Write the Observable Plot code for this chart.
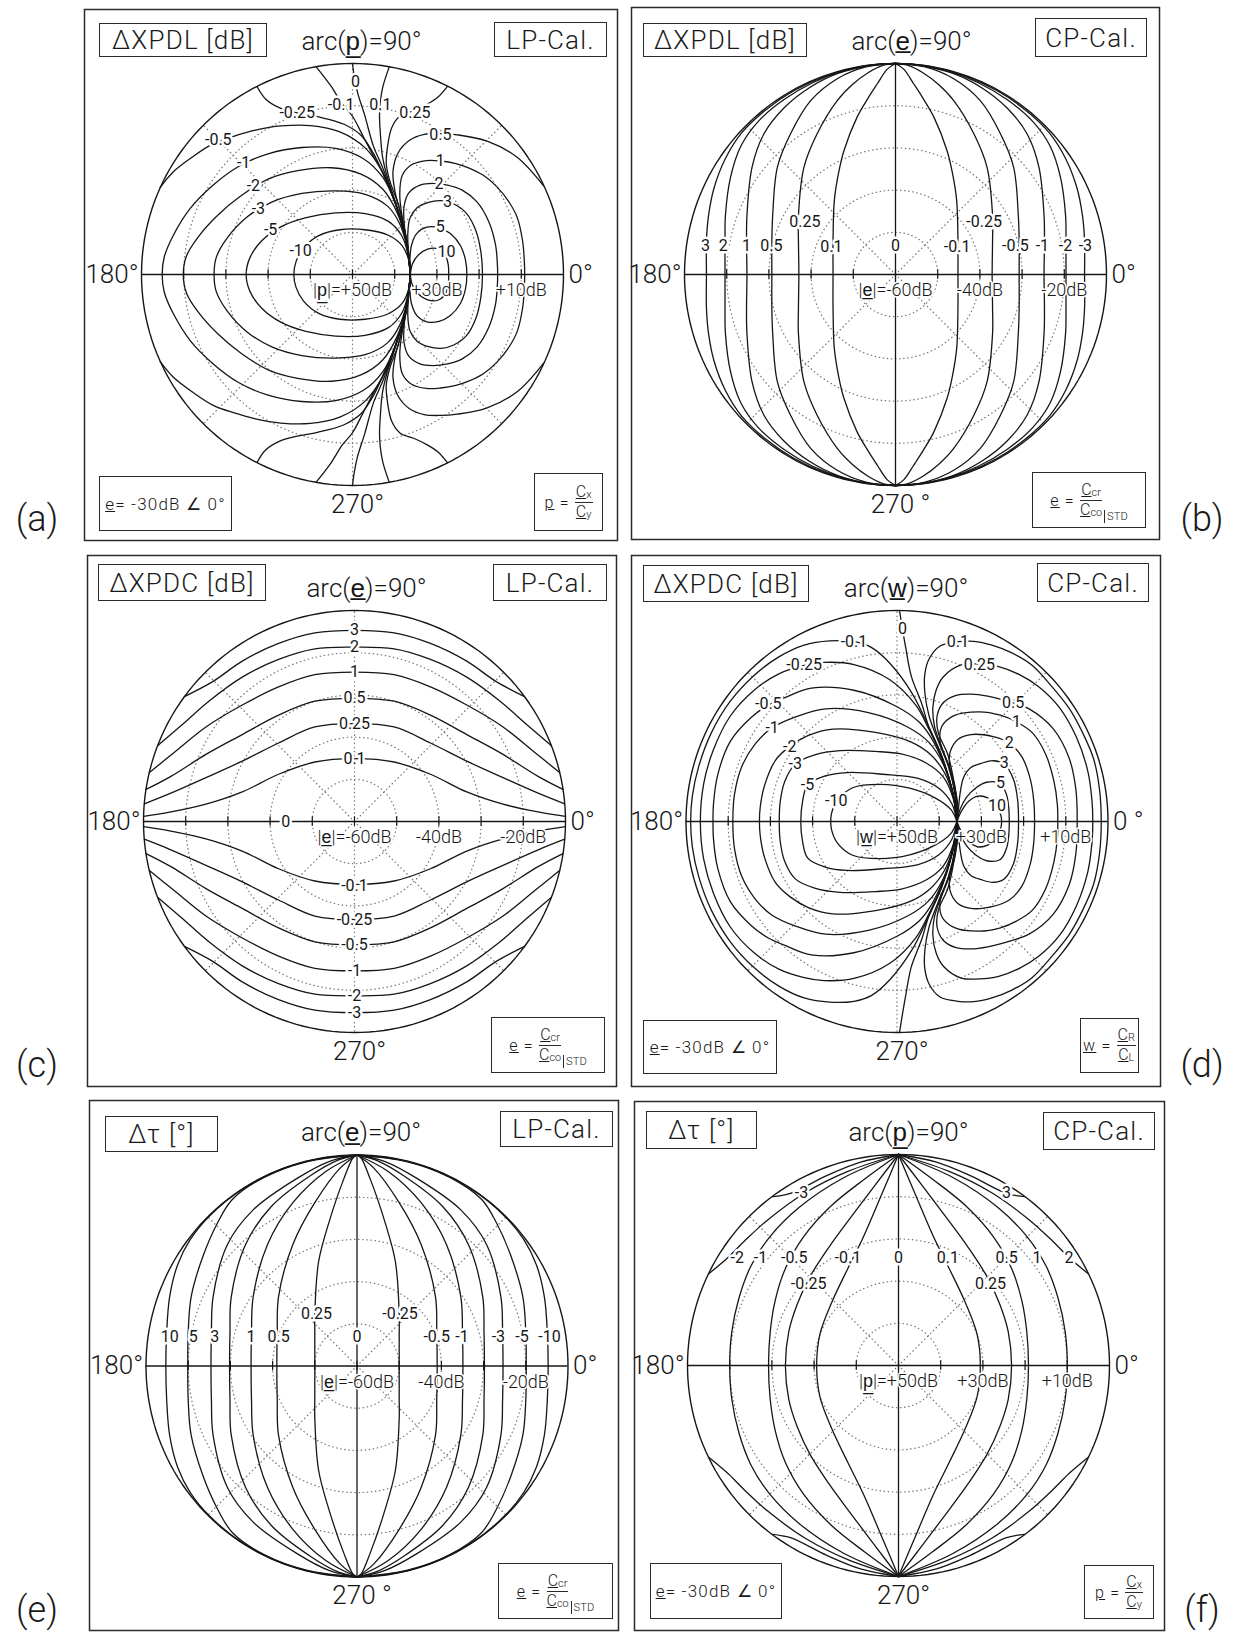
<!DOCTYPE html>
<html>
<head>
<meta charset="utf-8">
<script src="https://cdn.jsdelivr.net/npm/d3@7"></script>
<script src="https://cdn.jsdelivr.net/npm/@observablehq/plot@0.6"></script>
<style>
  html, body { margin: 0; padding: 0; background: #fff; }
  #page { position: relative; width: 1241px; height: 1632px; overflow: hidden; background: #fff;
          font-family: Roboto, "Liberation Sans", sans-serif; font-weight: 300; color: #1a1a1a; }
  #page svg { position: absolute; }
  .box { position: absolute; box-sizing: border-box; border: 1.6px solid #2a2a2a; display: flex;
         align-items: center; justify-content: center; white-space: nowrap; background: #fff; letter-spacing: 1.2px; }
  .tag { position: absolute; transform: translate(-50%, -50%); font-size: 36px; white-space: nowrap; }
  .frac { display: inline-flex; flex-direction: column; align-items: center; line-height: 1.05; vertical-align: middle; letter-spacing: 0; }
  .frac > span:first-child { border-bottom: 1.3px solid #2a2a2a; padding: 0 1px 1px 1px; }
  .frac > span:last-child { padding-top: 1px; }
  .frac sub { font-size: 0.68em; vertical-align: -0.1em; }
  .std { font-size: 0.7em; border-left: 1.2px solid #2a2a2a; padding-left: 2px; margin-left: 2px; align-self: flex-end; margin-bottom: 4px; letter-spacing: 0; }
</style>
</head>
<body>
<div id="page"></div>
<script>
// ---------------- DATA ----------------
// Radial grid: dotted circles every 10 dB, 50 dB from centre to rim.
const GRID_RADII = [10, 20, 30, 40];

// (a) ΔXPDL, LP-Cal — contour levels and their upper halves (x,y in dB from centre; lower half is the mirror image)
const A_levels = ["-10","-5","-3","-2","-1","-0.5","-0.25","-0.1","0","0.1","0.25","0.5","1","2","3","5","10"];
const A_halves = [
  [[13.7,0],[13.3,3.5],[11.8,6.8],[8.5,9.3],[3,10.6],[-3,10.6],[-8,9.2],[-11.6,6.3],[-13.4,3],[-13.9,0]],
  [[13.7,0],[13.1,5],[11.6,9.3],[8.5,12.6],[3,14.4],[-4,14.6],[-11,13.5],[-17,11.3],[-21.5,8],[-24.3,4],[-25.2,0]],
  [[13.7,0],[12.9,6.5],[11.2,12],[8.3,16.2],[3,19],[-4,19.8],[-12,19.2],[-19,17.2],[-25,13.6],[-29.8,8.5],[-32.3,4],[-32.8,0]],
  [[13.7,0],[12.7,8],[10.6,14.6],[7.2,20.2],[2,23.8],[-5,25.3],[-13,24.6],[-20,22.6],[-26.5,18.6],[-32,14],[-36.5,9],[-39.3,4.5],[-40.1,0]],
  [[13.7,0],[12.6,8.5],[10.3,16.5],[7.2,23],[2.5,27.5],[-4,29.9],[-12,30.1],[-20,28.6],[-27,25.6],[-33,21.2],[-38.5,15.6],[-42.5,9.2],[-44.6,4.2],[-45.1,0]],
  [[13.7,0],[12.6,8.5],[10.2,17],[7,24.5],[3,30],[-3,33.8],[-10,35.3],[-17,35.2],[-23,34.2],[-28,32.8],[-33,31],[-38,27.8],[-42.5,24.3],[-45.6,20.6]],
  [[13.7,0],[12.6,8.5],[10.1,17],[7.2,24],[4.8,29],[2,33],[-2,35.6],[-8.3,37.4],[-13.1,38.3],[-17.5,39.6],[-20.6,41.6],[-22.6,44.5]],
  [[13.7,0],[12.6,8.5],[10.1,17],[7.2,24],[5,28],[2.5,32.8],[0,37.5],[-2.5,40.5],[-5,44.5],[-8.6,49.2]],
  [[13.7,0],[12.6,8.5],[10.1,17],[7.2,25.2],[5,30.3],[2.9,37.7],[1.2,43.1],[0.4,47],[0,50]],
  [[13.7,0],[12.6,8.5],[10.2,17],[8,24],[7.1,28],[6.7,32],[6.4,37.7],[6.6,41],[7.2,44.5],[8.7,49.2]],
  [[13.7,0],[12.8,8.5],[10.9,16.5],[8.9,22],[8,26.2],[8.3,30.3],[9.3,34.8],[11.3,37.6],[14.5,38.8],[17.6,40.3],[20.2,42],[22.5,44.6]],
  [[13.7,0],[12.9,7],[11.5,14],[10,20],[9.6,24.5],[10.8,28.8],[13.5,31.8],[17,33.2],[20.9,33.4],[24.8,33.1],[31.9,31.6],[39,27.8],[45.3,21]],
  [[13.7,0],[13,7],[11.8,13.5],[11.2,19],[11.8,23.5],[14,26],[17.5,27],[20.9,26.9],[24.5,26.3],[27.2,25.4],[31,23.5],[34.3,20.7],[37.2,17],[39,13.6],[40.3,8],[40.7,3.5],[40.8,0]],
  [[13.7,0],[13.1,6],[12.3,11.5],[12.2,16],[13.3,19.3],[16,21.2],[19,21.6],[22.5,21.2],[26,20],[29.5,17.2],[32.3,12.5],[33.9,7],[34.3,3],[34.4,0]],
  [[13.7,0],[13.3,5],[13.1,9.5],[13.6,13.3],[15.3,15.8],[18,17.1],[21,17.5],[24,16.7],[27,14.5],[29.2,10.5],[30.4,5.5],[30.8,0]],
  [[13.7,0],[13.6,3.5],[14,7],[15.3,9.8],[17.6,11.2],[20.5,11.1],[23.2,9.7],[25.6,6.8],[26.8,3.3],[27.1,0]],
  [[13.7,0],[14.2,2.5],[15.6,4.6],[17.8,6],[20.2,6.1],[22,4.6],[22.7,2.2],[22.8,0]]
];
const A_labelText = ["0","-0.1","0.1","-0.25","0.25","-0.5","0.5","-1","1","-2","2","-3","3","-5","5","-10","10"];
const A_labelXY = [[0.7,45.6],[-2.7,40.3],[6.6,40.3],[-13.1,38.2],[14.8,38.3],[-31.8,31.8],[20.8,33.2],[-25.8,26.5],[20.8,26.9],[-23.5,21],[20.5,21.4],[-22.3,15.6],[22.5,17.3],[-19.4,10.5],[20.8,11.2],[-12.3,5.5],[22.3,5.3]];
const A_axisDb = [50, 30, 10];
const A_axisText = ["|p\u0332|=+50dB", "+30dB", "+10dB"];
const A_tickDb = [50, 40, 30, 20, 10];
const A_angleText = ["0°", "arc(p\u0332)=90°", "180°", "270°"];

// (b) ΔXPDL, CP-Cal — quarter curves (positive levels, upper-left); mirrored for the other quadrants
const B_levels = ["0.1","0.25","0.5","1","2","3"];
const B_quarters = [
  [[-14.8,0],[-14.8,8],[-14.5,17.5],[-13.5,24],[-12.2,29.4],[-9.1,37.3],[-6.5,41.8],[-4.3,45.2],[-2,48.6],[0,50]],
  [[-22.9,0],[-23,8],[-23,14],[-21.7,25.4],[-18.6,33.3],[-13.8,41.2],[-10.2,45],[-6.5,47.8],[-2.8,49.6],[0,50]],
  [[-29.3,0],[-29.3,8],[-29.1,14],[-28,25.4],[-24.9,33.3],[-20.1,41.2],[-13.8,46.4],[-7,49.2],[0,50]],
  [[-35.2,0],[-35.3,8],[-35.2,14],[-34,25.4],[-31.2,33.3],[-26.5,39.4],[-20.5,44.2],[-13.5,47.7],[-6,49.5],[0,50]],
  [[-40.4,0],[-40.4,8],[-40.3,14],[-39.1,23],[-36.6,30.5],[-32.4,36.4],[-26.5,41.4],[-19.5,45.5],[-12,48.3],[-5,49.7],[0,50]],
  [[-44.8,0],[-44.8,8],[-44.3,14],[-43,20.5],[-40.3,27.5],[-36.5,33.5],[-31,38.8],[-24,43.6],[-16,47.2],[-8,49.3],[0,50]]
];
const B_labelText = ["3","2","1","0.5","0.25","0.1","0","-0.1","-0.25","-0.5","-1","-2","-3"];
const B_labelXY = [[-45,6.9],[-40.8,6.9],[-35.3,6.9],[-29.4,6.9],[-21.5,12.4],[-15.2,6.6],[0,6.9],[14.6,6.6],[21,12.4],[28.4,6.9],[34.8,6.9],[40.3,6.9],[45,6.9]];
const B_axisDb = [-60, -40, -20];
const B_axisText = ["|e\u0332|=-60dB", "-40dB", "-20dB"];
const B_tickDb = [-60, -50, -40, -30, -20];
const B_angleText = ["0°", "arc(e\u0332)=90°", "180°", "270 °"];

// (c) ΔXPDC, LP-Cal — quarter curves (positive levels, from the vertical axis to the left rim)
const C_levels = ["0.1","0.25","0.5","1","2","3"];
const C_quarters = [
  [[0,14.9],[-9.4,14.1],[-18,11.2],[-26.6,7],[-35.2,4.1],[-43.8,2.2],[-49.96,1.2]],
  [[0,23.2],[-9.4,22.4],[-18,18.6],[-26.6,14.3],[-35.2,10.4],[-43.8,6.6],[-49.8,4.2]],
  [[0,29.2],[-9.4,28.5],[-18,25.2],[-26.6,20.6],[-35.2,15.9],[-43.5,10.7],[-49.4,7.6]],
  [[0,35.4],[-9.4,34.8],[-18,31.9],[-26.6,27.6],[-35.2,22.4],[-42.8,16.3],[-48.6,11.6]],
  [[0,41.3],[-9.4,40.9],[-18,38.4],[-26.6,34.2],[-34.5,28.5],[-41,22.8],[-46.6,18]],
  [[0,45.3],[-9.4,44.7],[-18,42.2],[-26.6,38],[-33.5,33.2],[-40.3,29.6]]
];
const C_labelText = ["3","2","1","0.5","0.25","0.1","0","-0.1","-0.25","-0.5","-1","-2","-3"];
const C_labelXY = [[0,45.3],[0,41.3],[0,35.4],[0,29.2],[0,23.2],[0,14.9],[-16.3,0],[0,-15.2],[0,-23.2],[0,-29.3],[0,-35.3],[0,-41.3],[0,-45.4]];
const C_axisDb = [-60, -40, -20];
const C_axisText = ["|e\u0332|=-60dB", "-40dB", "-20dB"];
const C_tickDb = [-60, -50, -40, -30, -20];
const C_angleText = ["0°", "arc(e\u0332)=90°", "180°", "270°"];

// (d) ΔXPDC, CP-Cal — upper halves
const D_levels = ["-10","-5","-3","-2","-1","-0.5","-0.25","-0.1","0","0.1","0.25","0.5","1","2","3","5","10"];
const D_halves = [
  [[14.2,0],[12.8,2.8],[9,5.6],[3,7.9],[-4,8.8],[-10.5,8],[-14.2,5],[-15.5,2],[-15.7,0]],
  [[14.2,0],[13,4.2],[10,7.8],[5,10.2],[-3.4,11.2],[-11.8,11.6],[-17,10.8],[-21.2,8.6],[-22.4,4.6],[-22.8,0]],
  [[14.2,0],[13.3,5.5],[11,10.5],[7,13.8],[1,16],[-5.1,16.6],[-13.5,16.8],[-19.5,15.8],[-24.1,13.6],[-26.6,9.5],[-27.7,4.5],[-27.9,0]],
  [[14.2,0],[13.3,6],[11.3,11.5],[8,15.8],[3.4,18.8],[-5.1,21.1],[-15.2,21.9],[-21,20.4],[-25.4,17.8],[-28.8,14.5],[-31.4,8.5],[-32.4,3.5],[-32.6,0]],
  [[14.2,0],[13.3,6.5],[11,13.5],[7.5,18.8],[2.5,22.4],[-6.8,25.8],[-16.9,26.7],[-24,24.8],[-29.6,22.2],[-33.5,18.5],[-36.8,13],[-38.5,6.5],[-38.9,0]],
  [[14.2,0],[13.3,6.5],[10.9,14],[8.3,19.5],[5.3,23.5],[0,27.2],[-10.2,31.1],[-20.3,31.6],[-26,29.6],[-30.5,27.6],[-34.5,24.7],[-39.5,19],[-42.5,11],[-43.5,4],[-43.6,0]],
  [[14.2,0],[13.3,6.5],[10.6,15.5],[7.5,22],[4.5,27.5],[-1.7,33.6],[-10.2,37.2],[-17.3,37.7],[-22,37],[-28,35],[-34,31],[-39.5,25],[-43.5,17],[-45.8,9],[-46.6,0]],
  [[14.2,0],[13.3,6.5],[10.8,15],[7.5,22.5],[3.5,30.5],[-1.7,37.5],[-6,41.2],[-10.2,42.6],[-16,42.8],[-22,41.8],[-28,39],[-34,34.5],[-39.5,28.5],[-44,21],[-47,13],[-48.5,6],[-48.9,0]],
  [[14.2,0],[13.3,6.5],[10.7,15],[7.5,22.5],[5.9,27.8],[3.4,34.4],[2.1,41],[1.3,45.6],[0.6,50]],
  [[14.2,0],[13.8,6],[12.2,13],[9.8,19],[7.6,25],[6.6,30.5],[6.6,35],[7.6,38.5],[10.2,41.6],[14.4,42.6],[18.2,42.7],[22.5,41.8],[27.1,40],[32,37],[36.5,32.2],[40.8,26.8],[44,21],[46.6,14.8],[48,7.5],[48.4,0]],
  [[14.2,0],[13.9,5.5],[12.8,11.5],[10.8,17],[8.9,22.5],[8.5,27],[9.3,31.2],[11,34.3],[15.2,37.1],[19.5,37.3],[24.1,36.7],[29,34.8],[33.5,32],[38.5,27],[42.5,20],[45.2,12],[46.2,5],[46.4,0]],
  [[14.2,0],[14,5],[13.2,11],[12,16],[9.8,21],[9.5,25],[11,28.2],[14,29.9],[17.5,30.2],[21.5,29.7],[27.5,28.1],[31.3,26.7],[37,22],[40.8,15],[42.4,7.5],[42.7,0]],
  [[14.2,0],[14.2,4],[13.6,9],[12,14],[10.2,19],[10.6,22.5],[13.5,25.1],[19.5,26],[24.5,25.2],[28.3,23.6],[32.1,21],[35.2,16],[37.2,9.5],[38,4],[38.1,0]],
  [[14.2,0],[14.4,4],[13.6,8.5],[12.5,13],[12.6,16.5],[14.5,19.5],[17.5,20.6],[22.8,20.1],[26.6,18.6],[29.6,15.3],[31.6,10],[32.4,5],[32.6,0]],
  [[14.2,0],[14.6,3.5],[15,7],[15.8,10.5],[17.5,12.8],[20,13.8],[22.8,14.4],[25.4,13.6],[27.6,10],[28.6,5],[28.8,0]],
  [[14.2,0],[15,3],[16.5,5.8],[18.6,7.9],[21.2,9.3],[24.5,9],[26,6.2],[26.5,3],[26.6,0]],
  [[14.2,0],[15.3,2.5],[17,4.8],[19.2,6],[21.5,5.6],[23.7,3.8],[24.6,1.5],[24.8,0]]
];
const D_labelText = ["0","-0.1","0.1","-0.25","0.25","-0.5","0.5","-1","1","-2","2","-3","3","-5","5","-10","10"];
const D_labelXY = [[1.3,45.6],[-10.2,42.5],[14.4,42.5],[-22,37],[19.5,37.2],[-30.5,27.8],[27.5,28.2],[-29.6,22.3],[28.3,23.6],[-25.4,17.8],[26.6,18.6],[-24.1,13.7],[25.4,13.8],[-21.2,8.7],[24.5,9.1],[-14.4,4.8],[23.7,3.6]];
const D_axisDb = [50, 30, 10];
const D_axisText = ["|w\u0332|=+50dB", "+30dB", "+10dB"];
const D_tickDb = [50, 40, 30, 20, 10];
const D_angleText = ["0 °", "arc(w\u0332)=90°", "180°", "270°"];

// (e) Δτ, LP-Cal — quarter curves (positive levels, upper-left)
const E_levels = ["0.25","0.5","1","2","3","5","10"];
const E_quarters = [
  [[-10,0],[-10,8],[-10,12.3],[-9.1,24.7],[-6.5,34.5],[-3.1,44.4],[-0.9,49.4],[0,50]],
  [[-19,0],[-18.9,8],[-18.6,16.4],[-15.2,28.8],[-10,38.7],[-4,46.9],[0,50]],
  [[-25.1,0],[-25,8],[-24.6,16.4],[-21.2,28.8],[-15.2,38.7],[-7.4,46.1],[0,50]],
  [[-30.2,0],[-30.1,8],[-29.8,16.4],[-26.4,28.8],[-20.3,37.8],[-10.9,45.2],[-4.5,48.8],[0,50]],
  [[-34.6,0],[-34.5,8],[-34.1,16.4],[-30.7,28.8],[-24.6,37],[-14.3,44.4],[-6.5,48.5],[0,50]],
  [[-40.1,0],[-40,8],[-39.3,16.4],[-36.5,26],[-33,34],[-29.5,39.5],[-22,44.7],[-12,48.4],[0,50]],
  [[-45.3,0],[-45.1,8],[-44.4,16.4],[-42.5,24],[-39.5,30],[-35,35.5],[-27,42],[-18,46.6],[-9,49.1],[0,50]]
];
const E_labelText = ["10","5","3","1","0.5","0.25","0","-0.25","-0.5","-1","-3","-5","-10"];
const E_labelXY = [[-44.4,7],[-38.8,7],[-33.7,7],[-25.1,7],[-18.6,7],[-9.6,12.3],[0,7],[10.2,12.3],[18.9,7],[24.9,7],[33.5,7],[39.1,7],[45.6,7]];
const E_axisDb = [-60, -40, -20];
const E_axisText = ["|e\u0332|=-60dB", "-40dB", "-20dB"];
const E_tickDb = [-60, -50, -40, -30, -20];
const E_angleText = ["0°", "arc(e\u0332)=90°", "180°", "270 °"];

// (f) Δτ, CP-Cal — quarter curves (positive levels, upper-right); 2 and 3 meet the rim
const F_levels = ["0.1","0.25","0.5","1","2","3"];
const F_quarters = [
  [[19.4,0],[18.6,7.5],[15.8,15],[12,23],[8.3,30.5],[4,40.5],[0,50]],
  [[26.8,0],[26,8],[24,14.5],[21,21],[16.5,28],[11,35.5],[5.5,42.8],[0,50]],
  [[30.8,0],[30.4,8],[29.2,15.5],[26.8,23],[22.5,30.5],[16,37.8],[8,44.2],[0,50]],
  [[40,0],[39.5,8],[37.8,16],[35,23.5],[30.5,30.5],[23.5,37.5],[13,44.5],[0,50]],
  [[44.9,21.8],[40.4,25.6],[36.5,29.5],[31,34.5],[22,41],[12,46],[0,50]],
  [[29.9,40],[25.6,40.8],[17,45],[9,48.2],[0,50]]
];
const F_labelText = ["-3","3","-2","-1","-0.5","-0.1","0","0.1","0.5","1","2","-0.25","0.25"];
const F_labelXY = [[-23,40.8],[25.6,40.8],[-38.2,25.6],[-32.7,25.6],[-24.7,25.6],[-12,25.6],[0,25.6],[11.7,25.6],[25.6,25.6],[32.8,25.6],[40.4,25.6],[-21.3,19.4],[21.8,19.4]];
const F_axisDb = [50, 30, 10];
const F_axisText = ["|p\u0332|=+50dB", "+30dB", "+10dB"];
const F_tickDb = [50, 40, 30, 20, 10];
const F_angleText = ["0°", "arc(p\u0332)=90°", "180°", "270°"];

// ---------------- LAYOUT ----------------
const FONT = 'Roboto, "Liberation Sans", sans-serif';
const K = 4.22; // px per dB
const LAYOUT = {
  a: {box: [84, 9, 617, 540],     c: [352, 274],    arcDx: 9,  radials: [45, 90, 135, 225, 270, 315]},
  b: {box: [631, 7, 1159, 539],   c: [895, 274],    arcDx: 16, radials: [45, 135, 225, 315]},
  c: {box: [87, 555, 616, 1086],  c: [354, 821],    arcDx: 12, radials: [45, 90, 135, 225, 270, 315]},
  d: {box: [631, 555, 1160, 1086],c: [896.5, 821],  arcDx: 9,  radials: [45, 90, 135, 225, 270, 315]},
  e: {box: [89, 1100, 618, 1630], c: [356.5, 1365.5], arcDx: 4, radials: [45, 135, 225, 315]},
  f: {box: [634, 1101, 1164, 1630], c: [898, 1365], arcDx: 10, radials: [45, 135, 225, 315]}
};

// ---------------- helpers ----------------
const page = document.getElementById("page");
const rad = Math.PI / 180;
const flipY = c => c.map(([x, y]) => [x, -y]);
const flipX = c => c.map(([x, y]) => [-x, y]);
const negLevel = s => s === "0" ? "0" : (s.startsWith("-") ? s.slice(1) : "-" + s);

function fromHalf(h) {
  const m = flipY(h);
  if (h[h.length - 1][1] === 0) return h.concat(m.slice(0, -1).reverse()); // closed loop
  return m.slice().reverse().concat(h.slice(1));
}
function fromQuarterV(q) {
  if (q[0][1] === 0) return [flipY(q).reverse().concat(q.slice(1))];
  return [q, flipY(q)];
}
function fromQuarterH(q) { return flipX(q).reverse().concat(q.slice(1)); }

function rowsOf(list) {
  return list.flatMap(({id, pts}) => pts.map(([x, y]) => ({id, x, y})));
}
function labelRows(texts, xy) { return texts.map((t, i) => ({t, x: xy[i][0], y: xy[i][1]})); }

function drawPanel(L, contours, labels, axisDb, axisText, tickDb, rOf, angleText) {
  const [l, t, r, b] = L.box, W = r - l, H = b - t, cx = L.c[0] - l, cy = L.c[1] - t;
  const ang = d3.range(0, 361, 2);
  const outer = ang.map(a => ({x: 50 * Math.cos(a * rad), y: 50 * Math.sin(a * rad)}));
  const grid = GRID_RADII.flatMap(g => ang.map(a => ({g, x: g * Math.cos(a * rad), y: g * Math.sin(a * rad)})));
  const ticks = tickDb.flatMap(d => { const rr = rOf(d); return rr === 0 ? [0] : [rr, -rr]; });
  const axisRows = axisText.map((s, i) => ({t: s, x: rOf(axisDb[i])}));
  const ink = "#161616";
  const dotted = {stroke: "#7a7a7a", strokeWidth: 1.3, strokeDasharray: "0.4,3.7", strokeLinecap: "round"};
  const txt = {fontFamily: FONT, fill: ink, fontWeight: 300};
  const txtR = {fontFamily: FONT, fill: ink, fontWeight: 400};
  const halo = {fontFamily: FONT, fill: "white", stroke: "white", strokeWidth: 5, fontWeight: 400};
  const svg = Plot.plot({
    width: W, height: H, margin: 0,
    x: {domain: [-cx / K, (W - cx) / K], axis: null},
    y: {domain: [-(H - cy) / K, cy / K], axis: null},
    style: {background: "transparent", overflow: "visible"},
    marks: [
      Plot.line(grid, {x: "x", y: "y", z: "g", ...dotted}),
      Plot.link(L.radials, {x1: () => 0, y1: () => 0, x2: a => 50 * Math.cos(a * rad), y2: a => 50 * Math.sin(a * rad), ...dotted}),
      Plot.line(outer, {x: "x", y: "y", stroke: ink, strokeWidth: 1.4}),
      Plot.ruleY([0], {x1: () => -50, x2: () => 50, stroke: ink, strokeWidth: 1.4}),
      Plot.ruleX(ticks, {x: d => d, y1: () => -1.1, y2: () => 1.1, stroke: ink, strokeWidth: 1.2}),
      Plot.line(rowsOf(contours), {x: "x", y: "y", z: "id", curve: "catmull-rom", stroke: ink, strokeWidth: 1.3}),
      Plot.text(labels, {x: "x", y: "y", text: "t", fontSize: 16, ...halo}),
      Plot.text(labels, {x: "x", y: "y", text: "t", fontSize: 16, ...txtR}),
      Plot.text(axisRows, {x: "x", y: () => 0, dy: 16, text: "t", fontSize: 18, ...halo, strokeWidth: 3}),
      Plot.text(axisRows, {x: "x", y: () => 0, dy: 16, text: "t", fontSize: 18, ...txt}),
      Plot.text([angleText[0]], {x: () => 50, y: () => 0, dx: 5, textAnchor: "start", text: d => d, fontSize: 26, ...txt}),
      Plot.text([angleText[1]], {x: () => 0, y: () => 50, dx: L.arcDx, dy: -22, text: d => d, fontSize: 26, ...txt}),
      Plot.text([angleText[2]], {x: () => -50, y: () => 0, dx: -3, textAnchor: "end", text: d => d, fontSize: 26, ...txt}),
      Plot.text([angleText[3]], {x: () => 0, y: () => -50, dx: 5, dy: 19, text: d => d, fontSize: 26, ...txt}),
      Plot.frame({stroke: "#2a2a2a", strokeWidth: 1.5})
    ]
  });
  svg.style.left = l + "px";
  svg.style.top = t + "px";
  page.appendChild(svg);
}

function addBox(l, t, w, h, html, fs) {
  const d = document.createElement("div");
  d.className = "box";
  Object.assign(d.style, {left: l + "px", top: t + "px", width: w + "px", height: h + "px", fontSize: fs + "px"});
  d.innerHTML = html;
  page.appendChild(d);
}
function addTag(x, y, s) {
  const d = document.createElement("div");
  d.className = "tag";
  Object.assign(d.style, {left: x + "px", top: y + "px"});
  d.textContent = s;
  page.appendChild(d);
}

const rHighRef = d => 50 - d;  // centre +50 dB, rim 0 dB
const rLowRef = d => d + 60;   // centre -60 dB, rim -10 dB

// ---------------- build contour sets ----------------
const A_set = A_halves.map((h, i) => ({id: A_levels[i], pts: fromHalf(h)}));
const D_set = D_halves.map((h, i) => ({id: D_levels[i], pts: fromHalf(h)}));
const vertical0 = {id: "0", pts: [[0, -50], [0, 50]]};
const B_set = [vertical0].concat(B_quarters.flatMap((q, i) => fromQuarterV(q).flatMap((p, j) => [
  {id: B_levels[i] + "_" + j, pts: p}, {id: negLevel(B_levels[i]) + "_" + j, pts: flipX(p)}])));
const E_set = [vertical0].concat(E_quarters.flatMap((q, i) => fromQuarterV(q).flatMap((p, j) => [
  {id: E_levels[i] + "_" + j, pts: p}, {id: negLevel(E_levels[i]) + "_" + j, pts: flipX(p)}])));
const F_set = [vertical0].concat(F_quarters.flatMap((q, i) => fromQuarterV(q).flatMap((p, j) => [
  {id: F_levels[i] + "_" + j, pts: p}, {id: negLevel(F_levels[i]) + "_" + j, pts: flipX(p)}])));
const C_set = C_quarters.flatMap((q, i) => { const p = fromQuarterH(q); return [
  {id: C_levels[i], pts: p}, {id: negLevel(C_levels[i]), pts: flipY(p)}]; });

drawPanel(LAYOUT.a, A_set, labelRows(A_labelText, A_labelXY), A_axisDb, A_axisText, A_tickDb, rHighRef, A_angleText);
drawPanel(LAYOUT.b, B_set, labelRows(B_labelText, B_labelXY), B_axisDb, B_axisText, B_tickDb, rLowRef, B_angleText);
drawPanel(LAYOUT.c, C_set, labelRows(C_labelText, C_labelXY), C_axisDb, C_axisText, C_tickDb, rLowRef, C_angleText);
drawPanel(LAYOUT.d, D_set, labelRows(D_labelText, D_labelXY), D_axisDb, D_axisText, D_tickDb, rHighRef, D_angleText);
drawPanel(LAYOUT.e, E_set, labelRows(E_labelText, E_labelXY), E_axisDb, E_axisText, E_tickDb, rLowRef, E_angleText);
drawPanel(LAYOUT.f, F_set, labelRows(F_labelText, F_labelXY), F_axisDb, F_axisText, F_tickDb, rHighRef, F_angleText);

// ---------------- boxed annotations ----------------
const fracP = '<u>p</u>&nbsp;=&nbsp;<span class="frac"><span><u>C</u><sub>x</sub></span><span><u>C</u><sub>y</sub></span></span>';
const fracW = '<u>w</u>&nbsp;=&nbsp;<span class="frac"><span><u>C</u><sub>R</sub></span><span><u>C</u><sub>L</sub></span></span>';
const fracE = '<u>e</u>&nbsp;=&nbsp;<span class="frac"><span><u>C</u><sub>cr</sub></span><span><u>C</u><sub>co</sub></span></span><span class="std">STD</span>';
const eVal = '<u>e</u>=&nbsp;-30dB&nbsp;∠&nbsp;0°';

addBox(99, 23, 168, 34, "ΔXPDL [dB]", 26);
addBox(494, 22, 113, 35, "LP-Cal.", 26);
addBox(99, 476, 133, 55, eVal, 17);
addBox(534, 473, 69, 58, fracP, 16);

addBox(643, 23, 164, 34, "ΔXPDL [dB]", 26);
addBox(1035, 18, 112, 39, "CP-Cal.", 26);
addBox(1032, 472, 114, 56, fracE, 16);

addBox(98, 564, 168, 37, "ΔXPDC [dB]", 26);
addBox(493, 564, 114, 37, "LP-Cal.", 26);
addBox(491, 1017, 114, 56, fracE, 16);

addBox(643, 565, 166, 37, "ΔXPDC [dB]", 26);
addBox(1037, 563, 112, 39, "CP-Cal.", 26);
addBox(643, 1020, 134, 54, eVal, 17);
addBox(1080, 1018, 59, 55, fracW, 16);

addBox(105, 1116, 113, 36, "Δτ [°]", 26);
addBox(500, 1111, 113, 36, "LP-Cal.", 26);
addBox(498, 1563, 115, 56, fracE, 16);

addBox(646, 1111, 111, 38, "Δτ [°]", 26);
addBox(1043, 1112, 112, 38, "CP-Cal.", 26);
addBox(650, 1563, 132, 56, eVal, 17);
addBox(1084, 1565, 70, 54, fracP, 16);

addTag(37, 519, "(a)");
addTag(1202, 519, "(b)");
addTag(37, 1065, "(c)");
addTag(1202, 1065, "(d)");
addTag(37, 1610, "(e)");
addTag(1202, 1610, "(f)");
</script>
</body>
</html>
